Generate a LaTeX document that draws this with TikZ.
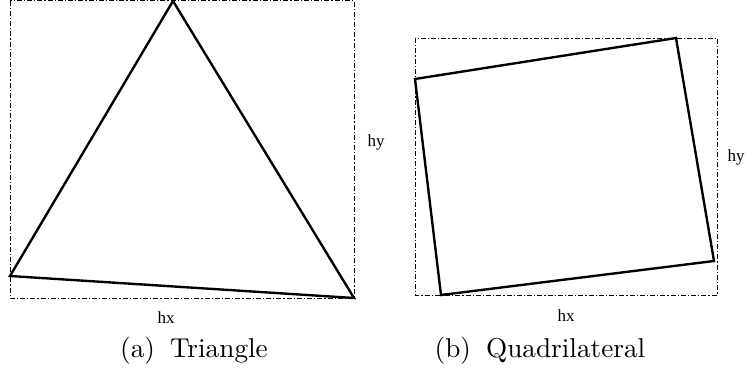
\documentclass[tikz,border=0pt]{standalone}
\usepackage{fontspec}
\newfontfamily\lblfont{Liberation Serif}
\begin{document}
\begin{tikzpicture}[x=0.4pt,y=-0.4pt,
  bbox/.style={line width=0.4pt, dash pattern=on 2pt off 0.8pt on 0.5pt off 0.8pt},
  polyline/.style={line width=0.95pt, line join=miter},
  lbl/.style={font=\lblfont\fontsize{6.8}{8}\selectfont, inner sep=0pt},
  captext/.style={font=\fontsize{10.9}{13}\selectfont, inner sep=0pt}]
\useasboundingbox (0,0) rectangle (747,374);
% (a) triangle
\draw[bbox] (10,0.5) rectangle (354,298);
\coordinate (t1) at (173,1);
\coordinate (t2) at (10,276);
\coordinate (t3) at (354,298);
\draw[polyline] (t1) -- (t2) -- (t3) -- cycle;
\node[lbl] (hxa) at (166,318) {hx};
\node[lbl] (hya) at (376,142) {hy};
\node[captext] (capa) at (194,351) {(a)\hspace{6pt}Triangle};
% (b) quadrilateral
\draw[bbox] (415,38) rectangle (717,295);
\coordinate (q1) at (415,79);
\coordinate (q2) at (676,38);
\coordinate (q3) at (714,261);
\coordinate (q4) at (441,295);
\draw[polyline] (q1) -- (q2) -- (q3) -- (q4) -- cycle;
\node[lbl] (hxb) at (566,316) {hx};
\node[lbl] (hyb) at (736,157) {hy};
\node[captext] (capb) at (540,351) {(b)\hspace{6pt}Quadrilateral};
\end{tikzpicture}
\end{document}
